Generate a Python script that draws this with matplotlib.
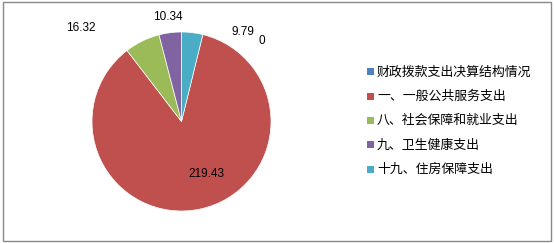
import matplotlib
matplotlib.use("Agg")
import matplotlib.pyplot as plt
from matplotlib.patches import Rectangle

# data
categories = ["财政拨款支出决算结构情况", "一、一般公共服务支出", "八、社会保障和就业支出",
              "九、卫生健康支出", "十九、住房保障支出"]
values = [0, 219.43, 16.32, 10.34, 9.79]
value_labels = ["0", "219.43", "16.32", "10.34", "9.79"]
colors = ["#4F81BD", "#C0504D", "#9BBB59", "#8064A2", "#4BACC6"]

# where Excel put the data labels (axes data units, pie radius = 1)
label_xy = [(0.90, 0.90), (0.28, -0.59), (-1.12, 1.04), (-0.15, 1.17), (0.69, 1.00)]

W, H = 554, 243
fig = plt.figure(figsize=(W / 100, H / 100), dpi=100)
fig.patch.set_facecolor("white")

# outer frame
fig.patches.append(Rectangle((2.5 / W, 2.5 / H), 548 / W, 238 / H, transform=fig.transFigure,
                             fill=False, edgecolor="#888888", linewidth=1))

cx, cy, r = 181.5, 121.5, 89.5
ax = fig.add_axes([(cx - r) / W, (H - cy - r) / H, 2 * r / W, 2 * r / H])
total = sum(values)
start = 90 - values[-1] / total * 360
ax.pie(values, colors=colors, startangle=start, counterclock=False, radius=1,
       wedgeprops=dict(edgecolor="white", linewidth=0.5))
ax.set_xlim(-1, 1)
ax.set_ylim(-1, 1)
ax.set_aspect("equal")
ax.axis("off")

for (x, y), t in zip(label_xy, value_labels):
    ax.text(x, y, t, ha="center", va="center", fontsize=8.5, family="Liberation Sans",
            color="black", clip_on=False)

# legend
row0, step = 72, 24.3
for i, (c, name) in enumerate(zip(colors, categories)):
    y = row0 + i * step
    fig.patches.append(Rectangle((366.5 / W, (H - y - 3.5) / H), 7 / W, 7 / H,
                                 transform=fig.transFigure, facecolor=c, edgecolor="none"))
    fig.text(377 / W, (H - y) / H, name, ha="left", va="center", fontsize=9.3,
             family=["Noto Sans CJK SC", "DejaVu Sans"], color="black")

fig.savefig("out.png", dpi=100)
